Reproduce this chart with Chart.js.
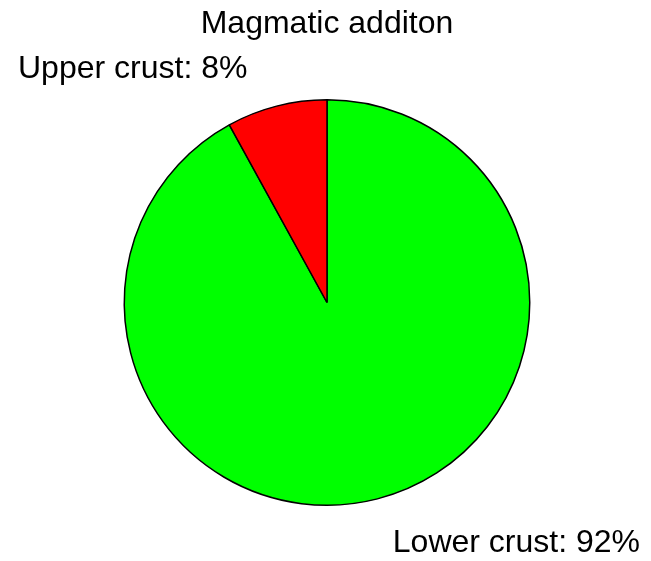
<!DOCTYPE html>
<html>
<head>
<meta charset="utf-8">
<script src="https://cdn.jsdelivr.net/npm/chart.js@4/dist/chart.umd.min.js"></script>
<style>
  body { margin: 0; background: #fff; }
  #wrap { width: 651px; height: 561px; }
</style>
</head>
<body>
<div id="wrap"><canvas id="chart1" width="651" height="561"></canvas></div>
<script>
// crust sources, in drawing order (clockwise from 12 o'clock)
const labels = ['Lower crust', 'Upper crust'];
const percents = [92, 8];
const colors = ['#00ff00', '#ff0000'];

const fontFamily = 'Arial, "Liberation Sans", sans-serif';

// writes "name: value%" next to the pie, one label per slice
const sliceLabels = {
  id: 'sliceLabels',
  afterDraw(chart) {
    const ctx = chart.ctx;
    const data = chart.data.datasets[0].data;
    ctx.save();
    ctx.font = '32px ' + fontFamily;
    ctx.fillStyle = '#000';
    ctx.textBaseline = 'alphabetic';
    // upper crust up on the left, lower crust down on the right
    ctx.textAlign = 'left';
    ctx.fillText(chart.data.labels[1] + ': ' + data[1] + '%', 18, 78);
    ctx.textAlign = 'right';
    ctx.fillText(chart.data.labels[0] + ': ' + data[0] + '%', 640, 552);
    ctx.restore();
  }
};

const canva1 = document.getElementById('chart1').getContext('2d');
const pieChart = new Chart(canva1, {
  type: 'pie',
  data: {
    labels: labels,
    datasets: [{
      data: percents,
      backgroundColor: colors,
      borderColor: '#000',
      borderWidth: 1.5
    }]
  },
  options: {
    responsive: false,
    animation: false,
    layout: {
      padding: { left: 3, right: 0, top: 0, bottom: 55 }
    },
    plugins: {
      legend: { display: false },
      tooltip: { enabled: false },
      title: {
        display: true,
        text: 'Magmatic additon',
        color: '#000',
        font: { size: 32, family: fontFamily, weight: 'normal' },
        padding: { top: 5, bottom: 55.6 }
      }
    }
  },
  plugins: [sliceLabels]
});
</script>
</body>
</html>
